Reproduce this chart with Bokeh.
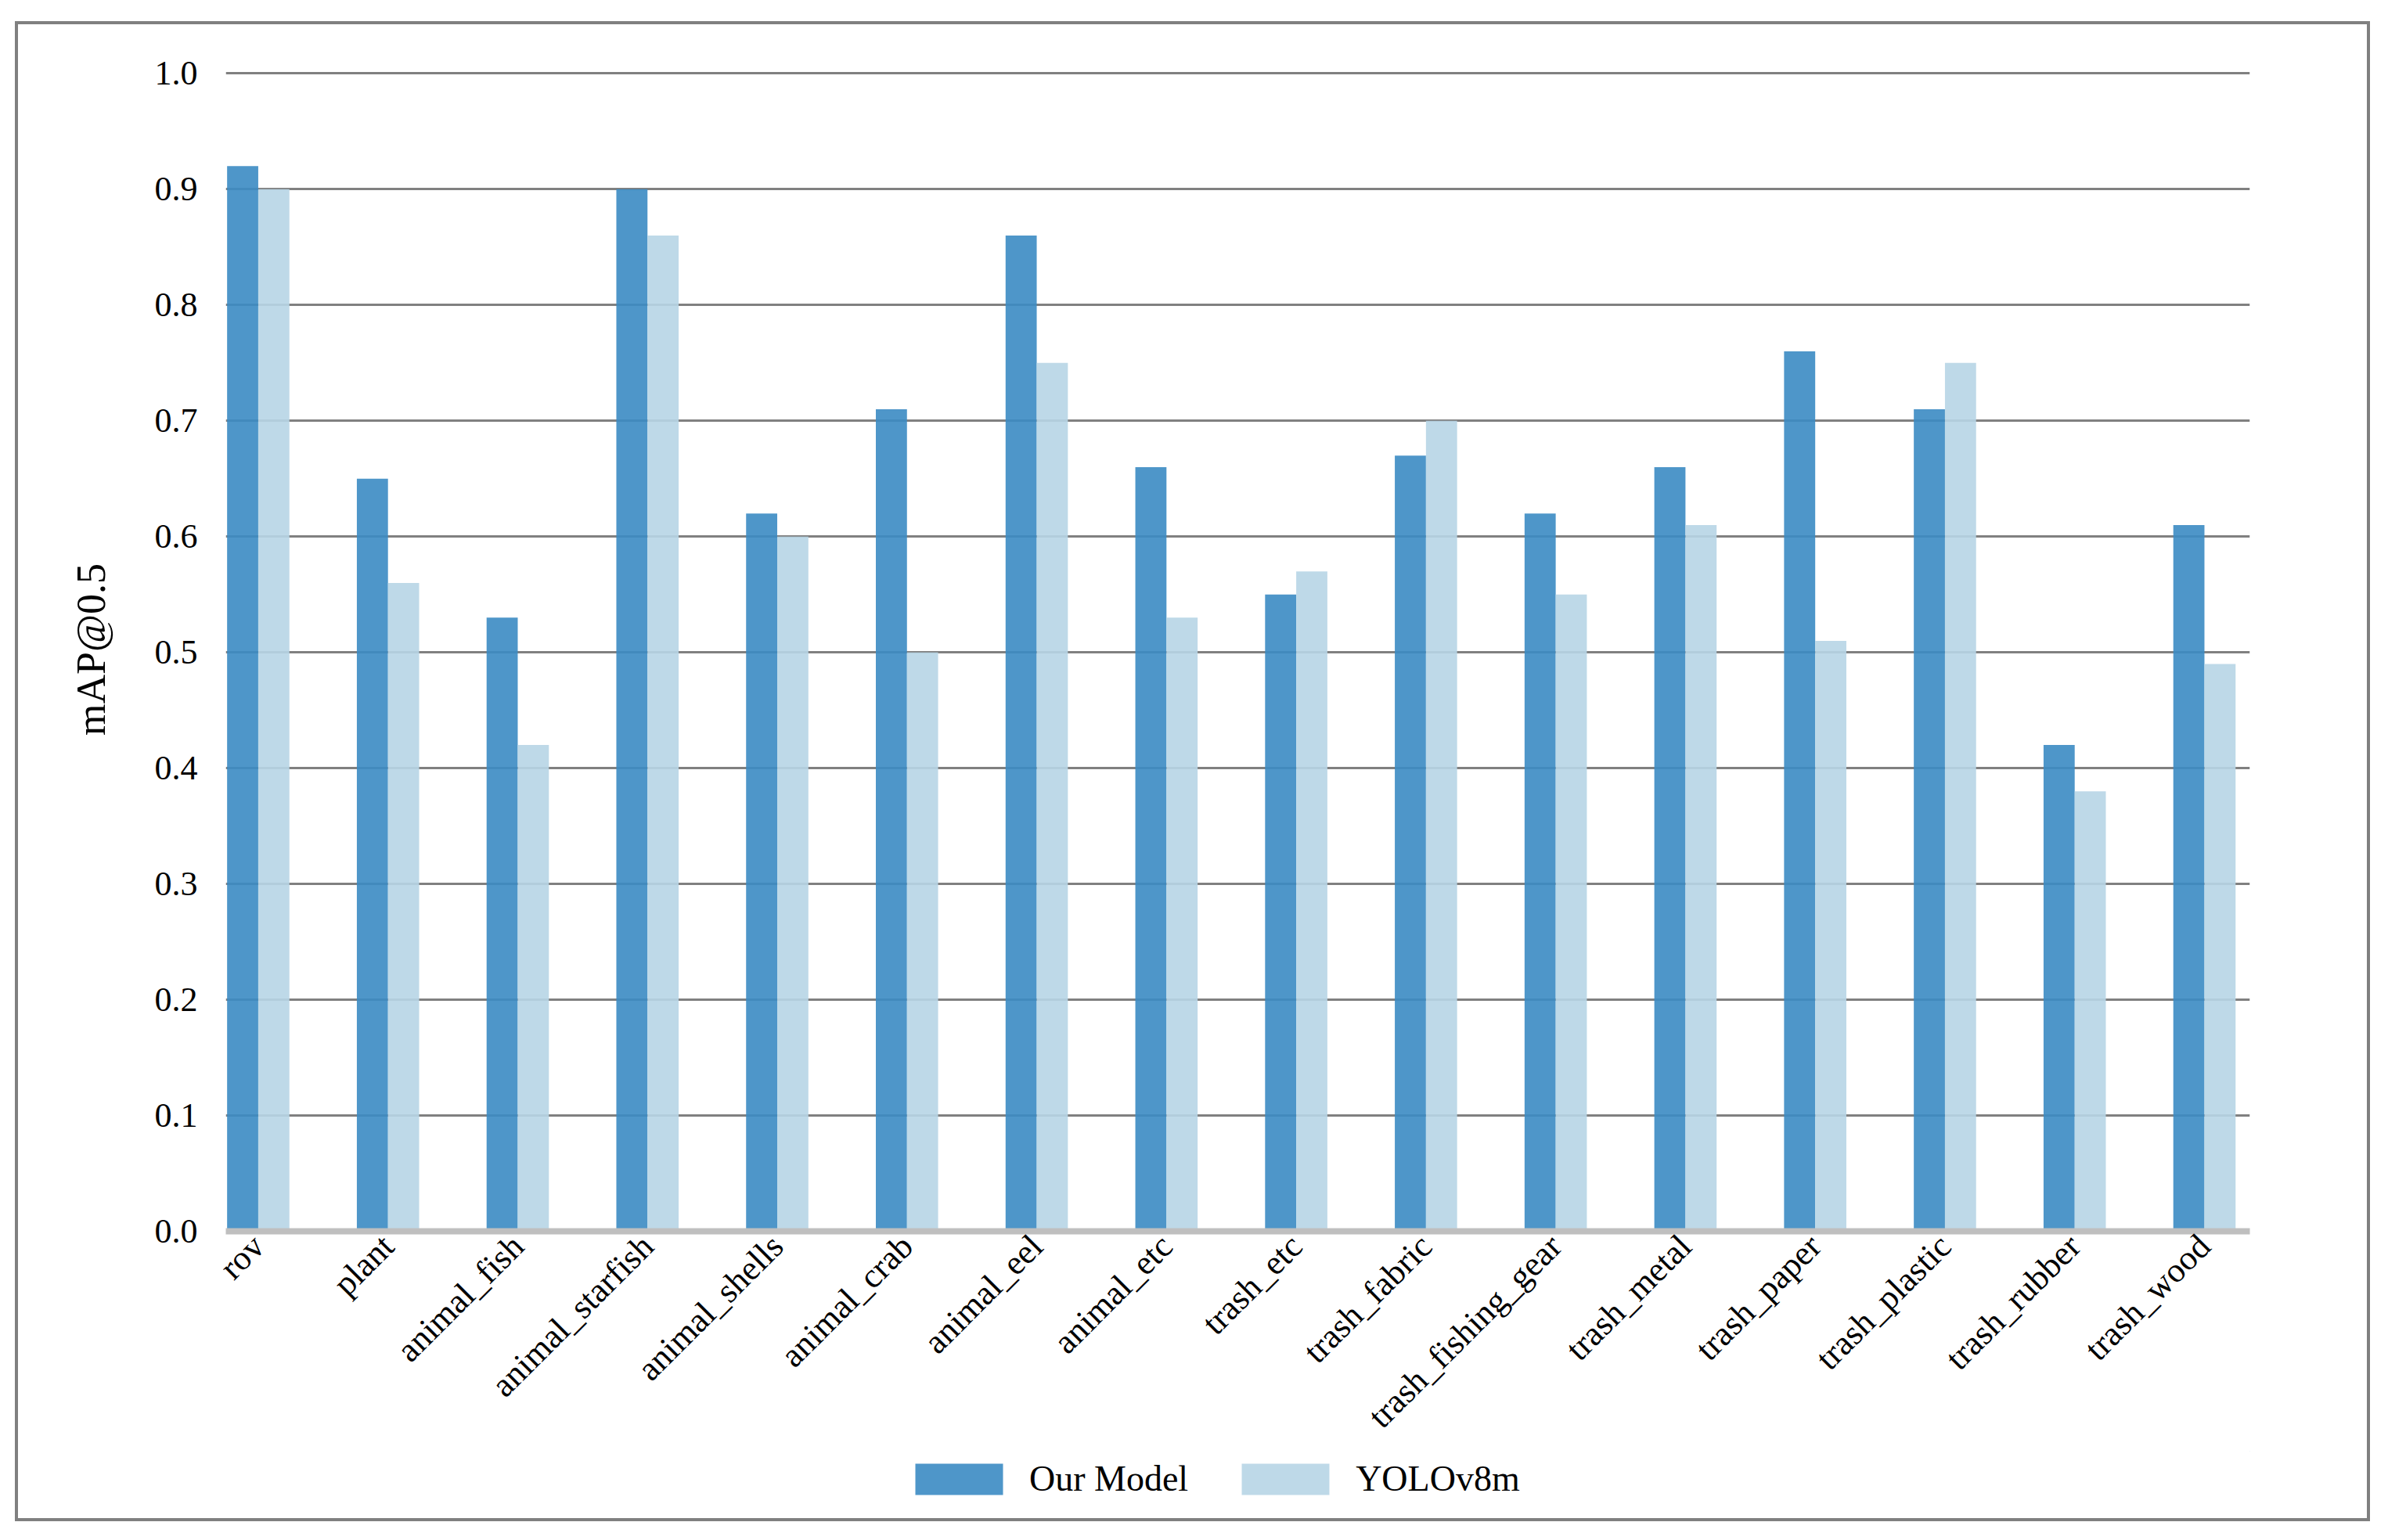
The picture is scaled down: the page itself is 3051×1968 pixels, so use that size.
import math
from bokeh.plotting import figure
from bokeh.layouts import column, row
from bokeh.models import (ColumnDataSource, Range1d, FixedTicker, PrintfTickFormatter,
                          Legend, LegendItem, Spacer)
from bokeh.embed import file_html
from bokeh.resources import INLINE

categories = ["rov", "plant", "animal_fish", "animal_starfish", "animal_shells",
              "animal_crab", "animal_eel", "animal_etc", "trash_etc", "trash_fabric",
              "trash_fishing_gear", "trash_metal", "trash_paper", "trash_plastic",
              "trash_rubber", "trash_wood"]
our_model = [0.92, 0.65, 0.53, 0.90, 0.62, 0.71, 0.86, 0.66, 0.55, 0.67,
             0.62, 0.66, 0.76, 0.71, 0.42, 0.61]
yolov8m = [0.90, 0.56, 0.42, 0.86, 0.60, 0.50, 0.75, 0.53, 0.57, 0.70,
           0.55, 0.61, 0.51, 0.75, 0.38, 0.49]
series_names = ["Our Model", "YOLOv8m"]
y_ticks = [0.0, 0.1, 0.2, 0.3, 0.4, 0.5, 0.6, 0.7, 0.8, 0.9, 1.0]

FONT = "Liberation Serif"
BAR_W = 0.24
C_OUR = "#3b8bc3"
C_YOLO = "#b7d5e5"
ALPHA = 0.9
xs = list(range(len(categories)))

src = ColumnDataSource(dict(
    x_our=[i - BAR_W / 2 for i in xs],
    x_yolo=[i + BAR_W / 2 for i in xs],
    our=our_model,
    yolo=yolov8m,
))

W = 3001
p = figure(width=W, height=1823, output_backend="svg", toolbar_location=None,
           x_range=Range1d(-0.25, 15.35), y_range=Range1d(0, 1.005),
           min_border_left=265, min_border_right=150, min_border_top=55,
           min_border_bottom=268)
p.outline_line_color = None
p.background_fill_color = "white"
p.border_fill_color = "white"

p.vbar(x="x_our", top="our", width=BAR_W, bottom=0, source=src,
       fill_color=C_OUR, fill_alpha=ALPHA, line_color=None)
p.vbar(x="x_yolo", top="yolo", width=BAR_W, bottom=0, source=src,
       fill_color=C_YOLO, fill_alpha=ALPHA, line_color=None)

# grid
p.xgrid.grid_line_color = None
p.ygrid.ticker = FixedTicker(ticks=y_ticks)
p.ygrid.grid_line_color = "#808080"
p.ygrid.grid_line_width = 3

# y axis
p.yaxis.ticker = FixedTicker(ticks=y_ticks)
p.yaxis.formatter = PrintfTickFormatter(format="%.1f")
p.yaxis.axis_line_color = None
p.yaxis.major_tick_line_color = None
p.yaxis.minor_tick_line_color = None
p.yaxis.major_label_text_font = FONT
p.yaxis.major_label_text_font_size = "44px"
p.yaxis.major_label_text_color = "black"
p.yaxis.major_label_standoff = 30
p.yaxis.axis_label = "mAP@0.5"
p.yaxis.axis_label_text_font = FONT
p.yaxis.axis_label_text_font_style = "normal"
p.yaxis.axis_label_text_font_size = "52px"
p.yaxis.axis_label_text_color = "black"
p.yaxis.axis_label_standoff = 50

# x axis
p.xaxis.ticker = FixedTicker(ticks=xs)
p.xaxis.major_label_overrides = {i: c for i, c in zip(xs, categories)}
p.xaxis.major_label_orientation = math.pi / 4
p.xaxis.major_label_text_font = FONT
p.xaxis.major_label_text_font_size = "44px"
p.xaxis.major_label_text_color = "black"
p.xaxis.major_label_standoff = 6
p.xaxis.axis_line_color = "#bfbfbf"
p.xaxis.axis_line_width = 8
p.xaxis.major_tick_line_color = None
p.xaxis.minor_tick_line_color = None

# legend strip (separate figure so the legend is not clipped)
pl = figure(width=W, height=86, output_backend="svg", toolbar_location=None,
            x_axis_type=None, y_axis_type=None, x_range=Range1d(0, 1), y_range=Range1d(0, 1),
            min_border=0)
pl.outline_line_color = None
pl.grid.grid_line_color = None
pl.background_fill_color = "white"
pl.border_fill_color = "white"
offscreen = ColumnDataSource(dict(x=[5.0], top=[5.0]))
l1 = pl.vbar(x="x", top="top", bottom=4.0, width=0.1, source=offscreen,
             fill_color=C_OUR, fill_alpha=ALPHA, line_color=None)
l2 = pl.vbar(x="x", top="top", bottom=4.0, width=0.1, source=offscreen,
             fill_color=C_YOLO, fill_alpha=ALPHA, line_color=None)

legend = Legend(items=[LegendItem(label=series_names[0], renderers=[l1]),
                       LegendItem(label=series_names[1], renderers=[l2])],
                orientation="horizontal", location=(867, 24))
legend.label_text_font = FONT
legend.label_text_font_size = "46px"
legend.label_text_color = "black"
legend.glyph_width = 140
legend.glyph_height = 50
legend.label_standoff = 20
legend.spacing = 54
legend.border_line_color = None
legend.background_fill_alpha = 0
legend.margin = 0
legend.padding = 0
pl.add_layout(legend, "center")

inner = column(p, pl, spacing=0, styles={"border": "4px solid #808080"})
layout = column(Spacer(width=10, height=27), row(Spacer(width=19, height=10), inner))
open("out.html", "w").write(file_html(layout, INLINE))
